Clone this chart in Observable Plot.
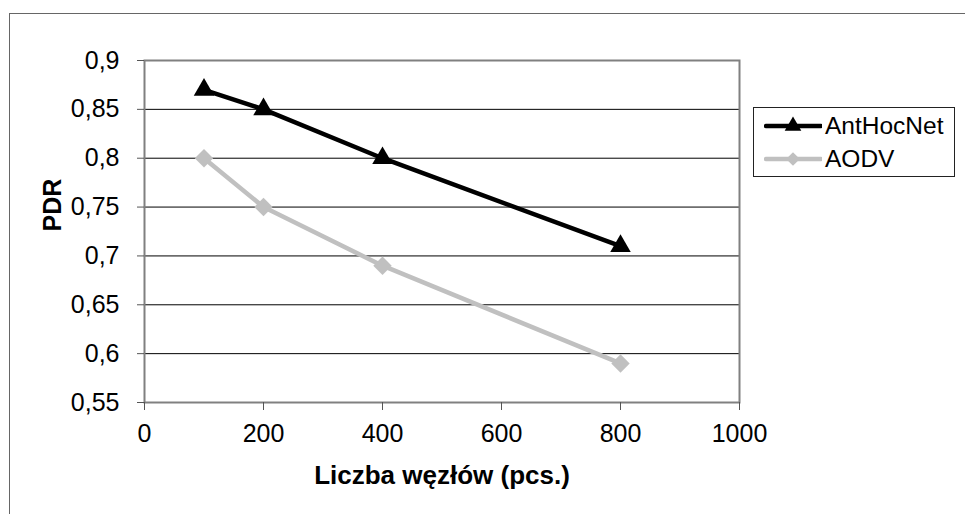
<!DOCTYPE html>
<html>
<head>
<meta charset="utf-8">
<script src="https://cdn.jsdelivr.net/npm/d3@7"></script>
<script src="https://cdn.jsdelivr.net/npm/@observablehq/plot@0.6"></script>
<style>
  html, body { margin: 0; padding: 0; background: #fff; }
  #wrap { position: relative; width: 965px; height: 514px; overflow: hidden; font-family: "Liberation Sans", Arial, sans-serif; }
  #outer { position: absolute; left: 9px; top: 13px; width: 970px; height: 520px; border: 1px solid #666; box-sizing: border-box; }
  #chart { position: absolute; left: 0; top: 0; }
  #legend { position: absolute; left: 753px; top: 107px; width: 202px; height: 70px; border: 1px solid #222; box-sizing: border-box; background: #fff; }
  .row { position: absolute; left: 0; height: 32px; display: flex; align-items: center; }
  .row span { font-size: 24.5px; color: #000; margin-left: 3px; line-height: 1; }
</style>
</head>
<body>
<div id="wrap">
  <div id="outer"></div>
  <div id="chart"></div>
  <div id="legend"></div>
</div>
<script>
const nodes = [100, 200, 400, 800];
const antHocNet = [0.87, 0.85, 0.80, 0.71];
const aodv = [0.80, 0.75, 0.69, 0.59];
const seriesNames = ["AntHocNet", "AODV"];
const seriesColors = ["#000000", "#c0c0c0"];
const seriesSymbols = ["triangle", "diamond2"];
const yTicks = [0.55, 0.6, 0.65, 0.7, 0.75, 0.8, 0.85, 0.9];
const yGrid = [0.6, 0.65, 0.7, 0.75, 0.8, 0.85];
const xTicks = [0, 200, 400, 600, 800, 1000];
const xLabel = "Liczba węzłów (pcs.)";
const yLabel = "PDR";

const data = [];
[antHocNet, aodv].forEach((vals, s) => {
  vals.forEach((v, i) => data.push({series: seriesNames[s], x: nodes[i], y: v}));
});
const dataA = data.filter(d => d.series === seriesNames[0]);
const dataB = data.filter(d => d.series === seriesNames[1]);

const fmt = d => String(+d.toFixed(2)).replace(".", ",");

const plot = Plot.plot({
  width: 965,
  height: 514,
  marginLeft: 144,
  marginRight: 226,
  marginTop: 60,
  marginBottom: 112,
  style: {fontFamily: "'Liberation Sans', Arial, sans-serif", fontSize: "25px", color: "#000", background: "transparent", overflow: "visible"},
  x: {domain: [0, 1000], ticks: xTicks, tickSize: 8, tickPadding: 14, tickFormat: d => String(d), label: null},
  y: {domain: [0.55, 0.9], ticks: yTicks, tickSize: 7, tickPadding: 18, tickFormat: fmt, label: null},
  color: {domain: seriesNames, range: seriesColors},
  marks: [
    Plot.ruleY(yGrid, {stroke: "#000", strokeWidth: 1}),
    Plot.frame({stroke: "#808080", strokeWidth: 2}),
    Plot.axisX({ticks: xTicks, tickSize: 8, tickPadding: 14, tickFormat: d => String(d), stroke: "#555", fill: "#000", fontSize: 25, label: null}),
    Plot.axisY({ticks: yTicks, tickSize: 7, tickPadding: 18, tickFormat: fmt, stroke: "#555", fill: "#000", fontSize: 25, label: null}),
    Plot.line(data, {x: "x", y: "y", z: "series", stroke: "series", strokeWidth: 4.5}),
    Plot.dot(dataA, {x: "x", y: "y", symbol: seriesSymbols[0], fill: seriesColors[0], stroke: "none", r: 7.6}),
    Plot.dot(dataB, {x: "x", y: "y", symbol: seriesSymbols[1], fill: seriesColors[1], stroke: "none", r: 8.3}),
    Plot.text([xLabel], {frameAnchor: "bottom", dy: 81, text: d => d, fontWeight: "bold", fontSize: 26, fill: "#000"}),
    Plot.text([yLabel], {frameAnchor: "left", dx: -92, rotate: -90, text: d => d, fontWeight: "bold", fontSize: 25, fill: "#000"})
  ]
});
document.getElementById("chart").appendChild(plot);

// legend
const legend = d3.select("#legend");
seriesNames.forEach((name, i) => {
  const row = legend.append("div").attr("class", "row").style("top", (i === 0 ? 2 : 35) + "px").style("left", "10px");
  const svg = row.append("svg").attr("width", 58).attr("height", 24);
  svg.append("line").attr("x1", 2).attr("x2", 57).attr("y1", 12).attr("y2", 12)
    .attr("stroke", seriesColors[i]).attr("stroke-width", 4.5).attr("stroke-linecap", "round");
  const sym = i === 0 ? d3.symbolTriangle : d3.symbolDiamond2;
  svg.append("path").attr("d", d3.symbol(sym, 120)()).attr("transform", "translate(29,12)")
    .attr("fill", seriesColors[i]);
  row.append("span").text(name);
});
</script>
</body>
</html>
